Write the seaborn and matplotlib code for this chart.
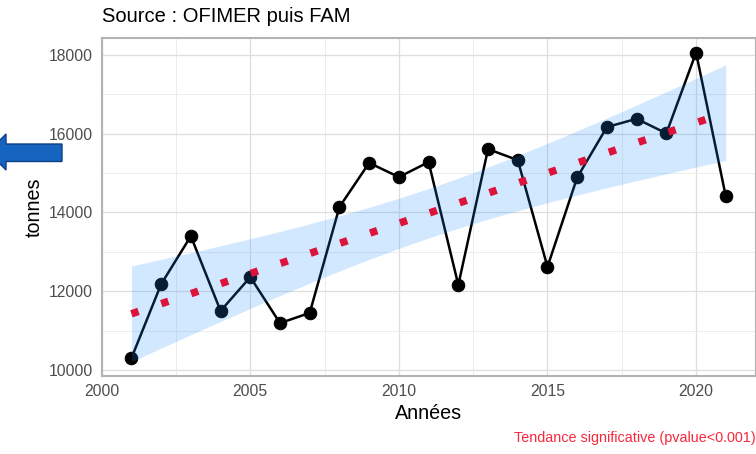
# Production annuelle en tonnes avec tendance lineaire (style ggplot)

import matplotlib
matplotlib.use("Agg")
import matplotlib.pyplot as plt
import seaborn as sns
import numpy as np
import pandas as pd
from matplotlib.patches import Polygon
from matplotlib.ticker import MultipleLocator

# --- donnees ---
annees = [2001, 2002, 2003, 2004, 2005, 2006, 2007, 2008, 2009, 2010, 2011,
          2012, 2013, 2014, 2015, 2016, 2017, 2018, 2019, 2020, 2021]
tonnes = [10300, 12180, 13400, 11500, 12360, 11190, 11450, 14140, 15260, 14900, 15280,
          12160, 15610, 15330, 12620, 14890, 16170, 16380, 16010, 18060, 14410]
x_ticks = [2000, 2005, 2010, 2015, 2020]
y_ticks = [10000, 12000, 14000, 16000, 18000]

titre = "Source : OFIMER puis FAM"
label_x = "Années"
label_y = "tonnes"
note = "Tendance significative (pvalue<0.001)"

df = pd.DataFrame({"annee": annees, "tonnes": tonnes})

sns.set_theme(style="white")
plt.rcParams["font.family"] = ["Liberation Sans", "DejaVu Sans"]

W, H = 756, 454
fig = plt.figure(figsize=(W / 100, H / 100), dpi=100)
ax = fig.add_axes([101.7 / W, 1 - 375.7 / H, (755.5 - 101.7) / W, (375.7 - 38.3) / H])

# serie observee
sns.lineplot(data=df, x="annee", y="tonnes", ax=ax, color="black", lw=1.8,
             marker="o", markersize=9, markeredgecolor="black",
             markerfacecolor="black", zorder=2)

# regression lineaire + intervalle de confiance 95% (comme geom_smooth(method="lm"))
x = df["annee"].to_numpy(float)
y = df["tonnes"].to_numpy(float)
n = len(x)
pente, ordo = np.polyfit(x, y, 1)
resid = y - (pente * x + ordo)
s = np.sqrt(np.sum(resid ** 2) / (n - 2))
sxx = np.sum((x - x.mean()) ** 2)
t_crit = 2.093  # t(0.975, df=19)
xs = np.linspace(x.min(), x.max(), 80)
ys = pente * xs + ordo
se = s * np.sqrt(1 / n + (xs - x.mean()) ** 2 / sxx)
ax.fill_between(xs, ys - t_crit * se, ys + t_crit * se, color="#1E90FF",
                alpha=0.2, lw=0, zorder=3)
ax.plot(xs, ys, color="#dc143c", lw=5.4, ls=(0, (1, 3.2)),
        dash_capstyle="butt", zorder=4)

# axes
ax.set_xlim(2000, 2022)
ax.set_ylim(9855, 18424)
ax.set_xticks(x_ticks)
ax.set_yticks(y_ticks)
ax.xaxis.set_minor_locator(MultipleLocator(2.5))
ax.yaxis.set_minor_locator(MultipleLocator(1000))
ax.grid(True, which="major", color="#dedede", lw=0.9, zorder=0)
ax.grid(True, which="minor", color="#ececec", lw=0.7, zorder=0)
ax.set_axisbelow(True)
for sp in ax.spines.values():
    sp.set_color("#b3b3b3")
    sp.set_linewidth(1.5)
ax.tick_params(axis="both", which="major", length=3.6, width=1, color="#b3b3b3",
               labelcolor="#4d4d4d", labelsize=11.3, pad=2.5)
ax.tick_params(axis="both", which="minor", length=0)
ax.set_xlabel(label_x, fontsize=14.2, color="black", labelpad=3.5)
ax.set_ylabel(label_y, fontsize=14.2, color="black", labelpad=4)

fig.text(101.7 / W, 1 - 17 / H, titre, fontsize=14.5, color="black", ha="left", va="center")
fig.text(756 / W, 1 - 438 / H, note, fontsize=10.4, color="#f8283c", ha="right", va="center")

# fleche bleue a gauche
pts_px = [(62, 144), (62, 161.5), (6, 161.5), (6, 170), (-12, 152), (6, 134), (6, 144)]
pts = [(px / W, 1 - py / H) for px, py in pts_px]
fig.patches.append(Polygon(pts, closed=True, transform=fig.transFigure,
                           facecolor="#1565c0", edgecolor="#0d3f86", lw=1.0))

fig.savefig("out.png", dpi=100)
